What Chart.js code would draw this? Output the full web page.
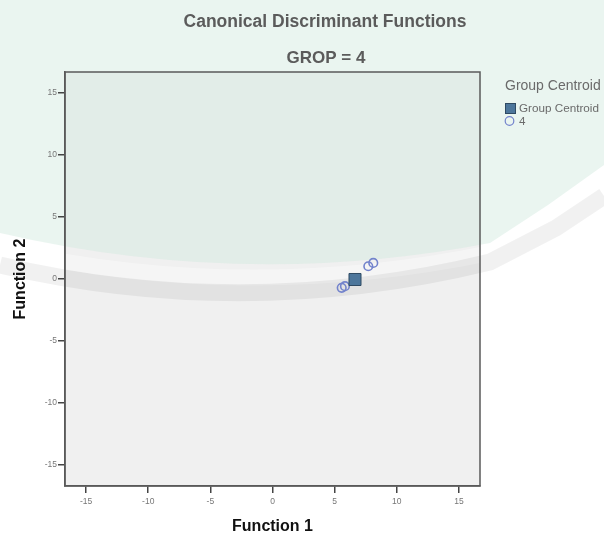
<!DOCTYPE html>
<html>
<head>
<meta charset="utf-8">
<script src="https://cdn.jsdelivr.net/npm/chart.js@4/dist/chart.umd.min.js"></script>
<style>
  html, body { margin: 0; padding: 0; background: #ffffff; }
  #wrap { width: 604px; height: 536px; position: relative; }
</style>
</head>
<body>
<div id="wrap"><canvas id="c" width="604" height="536"></canvas></div>
<script>
// ---- data ----
const chartTitle = 'Canonical Discriminant Functions';
const chartSubtitle = 'GROP = 4';
const xAxisTitle = 'Function 1';
const yAxisTitle = 'Function 2';
const legendTitle = 'Group Centroid';
const seriesNames = ['Group Centroid', '4'];
const centroidX = [6.64];
const centroidY = [-0.04];
const caseX = [5.57, 5.83, 7.71, 8.11];
const caseY = [-0.71, -0.58, 1.03, 1.30];
const tickValues = [-15, -10, -5, 0, 5, 10, 15];
const axisMin = -16.7;
const axisMax = 16.7;

const FONT = "'Liberation Sans', Arial, Helvetica, sans-serif";

const centroidPoints = centroidX.map((x, i) => ({ x: x, y: centroidY[i] }));
const casePoints = caseX.map((x, i) => ({ x: x, y: caseY[i] }));

const decor = {
  id: 'decor',
  beforeDraw(chart) {
    const ctx = chart.ctx;
    const a = chart.chartArea;
    ctx.save();
    ctx.fillStyle = '#ffffff';
    ctx.fillRect(0, 0, chart.width, chart.height);
    ctx.fillStyle = '#f0f0f0';
    ctx.fillRect(a.left, a.top, a.right - a.left, a.bottom - a.top);
    // faint watermark tint (upper region)
    ctx.beginPath();
    ctx.moveTo(0, 0);
    ctx.lineTo(604, 0);
    ctx.lineTo(604, 165);
    ctx.lineTo(548, 205);
    ctx.lineTo(490, 243);
    ctx.quadraticCurveTo(245, 290, 0, 233);
    ctx.closePath();
    ctx.fillStyle = 'rgba(209,233,221,0.45)';
    ctx.fill();
    // light band
    ctx.beginPath();
    ctx.moveTo(0, 249);
    ctx.quadraticCurveTo(245, 304, 490, 253);
    ctx.lineTo(552, 218);
    ctx.lineTo(604, 182);
    ctx.strokeStyle = 'rgba(255,255,255,0.35)';
    ctx.lineWidth = 16;
    ctx.stroke();
    // gray band
    ctx.beginPath();
    ctx.moveTo(0, 265);
    ctx.quadraticCurveTo(245, 322, 490, 262);
    ctx.lineTo(556, 228);
    ctx.lineTo(604, 196);
    ctx.strokeStyle = 'rgba(0,0,0,0.055)';
    ctx.lineWidth = 17;
    ctx.stroke();
    ctx.restore();
  },
  beforeDatasetsDraw(chart) {
    const ctx = chart.ctx;
    const a = chart.chartArea;
    ctx.save();
    ctx.strokeStyle = '#5a5a5a';
    ctx.lineWidth = 1.5;
    ctx.strokeRect(a.left, a.top, a.right - a.left, a.bottom - a.top);
    ctx.restore();
  },
  afterDraw(chart) {
    const ctx = chart.ctx;
    ctx.save();
    // titles
    ctx.fillStyle = '#5b5b5b';
    ctx.textAlign = 'center';
    ctx.textBaseline = 'middle';
    ctx.font = 'bold 17.5px ' + FONT;
    ctx.fillText(chartTitle, 325, 22);
    ctx.font = 'bold 17px ' + FONT;
    ctx.fillText(chartSubtitle, 326, 58);
    // legend
    ctx.textAlign = 'left';
    ctx.fillStyle = '#6a6a6a';
    ctx.font = '14px ' + FONT;
    ctx.fillText(legendTitle, 505, 86);
    const d0 = chart.data.datasets[0];
    const d1 = chart.data.datasets[1];
    ctx.fillStyle = d0.backgroundColor;
    ctx.strokeStyle = d0.borderColor;
    ctx.lineWidth = 1;
    ctx.fillRect(505.5, 103.5, 10, 10);
    ctx.strokeRect(505.5, 103.5, 10, 10);
    ctx.beginPath();
    ctx.arc(509.5, 121, 4.3, 0, Math.PI * 2);
    ctx.strokeStyle = d1.borderColor;
    ctx.lineWidth = 1.2;
    ctx.stroke();
    ctx.fillStyle = '#6a6a6a';
    ctx.font = '11.7px ' + FONT;
    ctx.fillText(seriesNames[0], 519, 109);
    ctx.fillText(seriesNames[1], 519, 122);
    ctx.restore();
  }
};

function fixTicks(scale) {
  scale.ticks = tickValues.map(v => ({ value: v }));
}

new Chart(document.getElementById('c'), {
  type: 'scatter',
  data: {
    datasets: [
      {
        label: seriesNames[0],
        data: centroidPoints,
        pointStyle: 'rect',
        pointRadius: 8.5,
        backgroundColor: '#4d769b',
        borderColor: '#2f4a63',
        borderWidth: 1
      },
      {
        label: seriesNames[1],
        data: casePoints,
        pointStyle: 'circle',
        pointRadius: 4.3,
        backgroundColor: 'rgba(0,0,0,0)',
        borderColor: '#7383cc',
        borderWidth: 1.6
      }
    ]
  },
  options: {
    responsive: false,
    animation: false,
    layout: { padding: { top: 72, right: 124, left: 0, bottom: 0 } },
    plugins: {
      legend: { display: false },
      title: { display: false },
      tooltip: { enabled: false }
    },
    scales: {
      x: {
        type: 'linear',
        position: 'bottom',
        min: axisMin,
        max: axisMax,
        afterBuildTicks: fixTicks,
        afterFit: s => { s.height = 50; },
        grid: { drawOnChartArea: false, drawTicks: true, tickLength: 7, color: '#444', lineWidth: 1.5 },
        border: { display: true, color: '#5a5a5a', width: 1.5 },
        ticks: { autoSkip: false, maxRotation: 0, padding: 4, color: '#777', font: { size: 8.5, family: FONT } },
        title: { display: true, text: xAxisTitle, color: '#111', padding: { top: 0, bottom: 0 }, font: { size: 16, weight: 'bold', family: FONT } }
      },
      y: {
        type: 'linear',
        position: 'left',
        min: axisMin,
        max: axisMax,
        afterBuildTicks: fixTicks,
        afterFit: s => { s.width = 65; },
        grid: { drawOnChartArea: false, drawTicks: true, tickLength: 7, color: '#444', lineWidth: 1.5 },
        border: { display: true, color: '#5a5a5a', width: 1.5 },
        ticks: { autoSkip: false, padding: 1, color: '#777', font: { size: 8.5, family: FONT } },
        title: { display: true, text: yAxisTitle, color: '#111', padding: { top: 11, bottom: 0 }, font: { size: 16, weight: 'bold', family: FONT } }
      }
    }
  },
  plugins: [decor]
});
</script>
</body>
</html>
